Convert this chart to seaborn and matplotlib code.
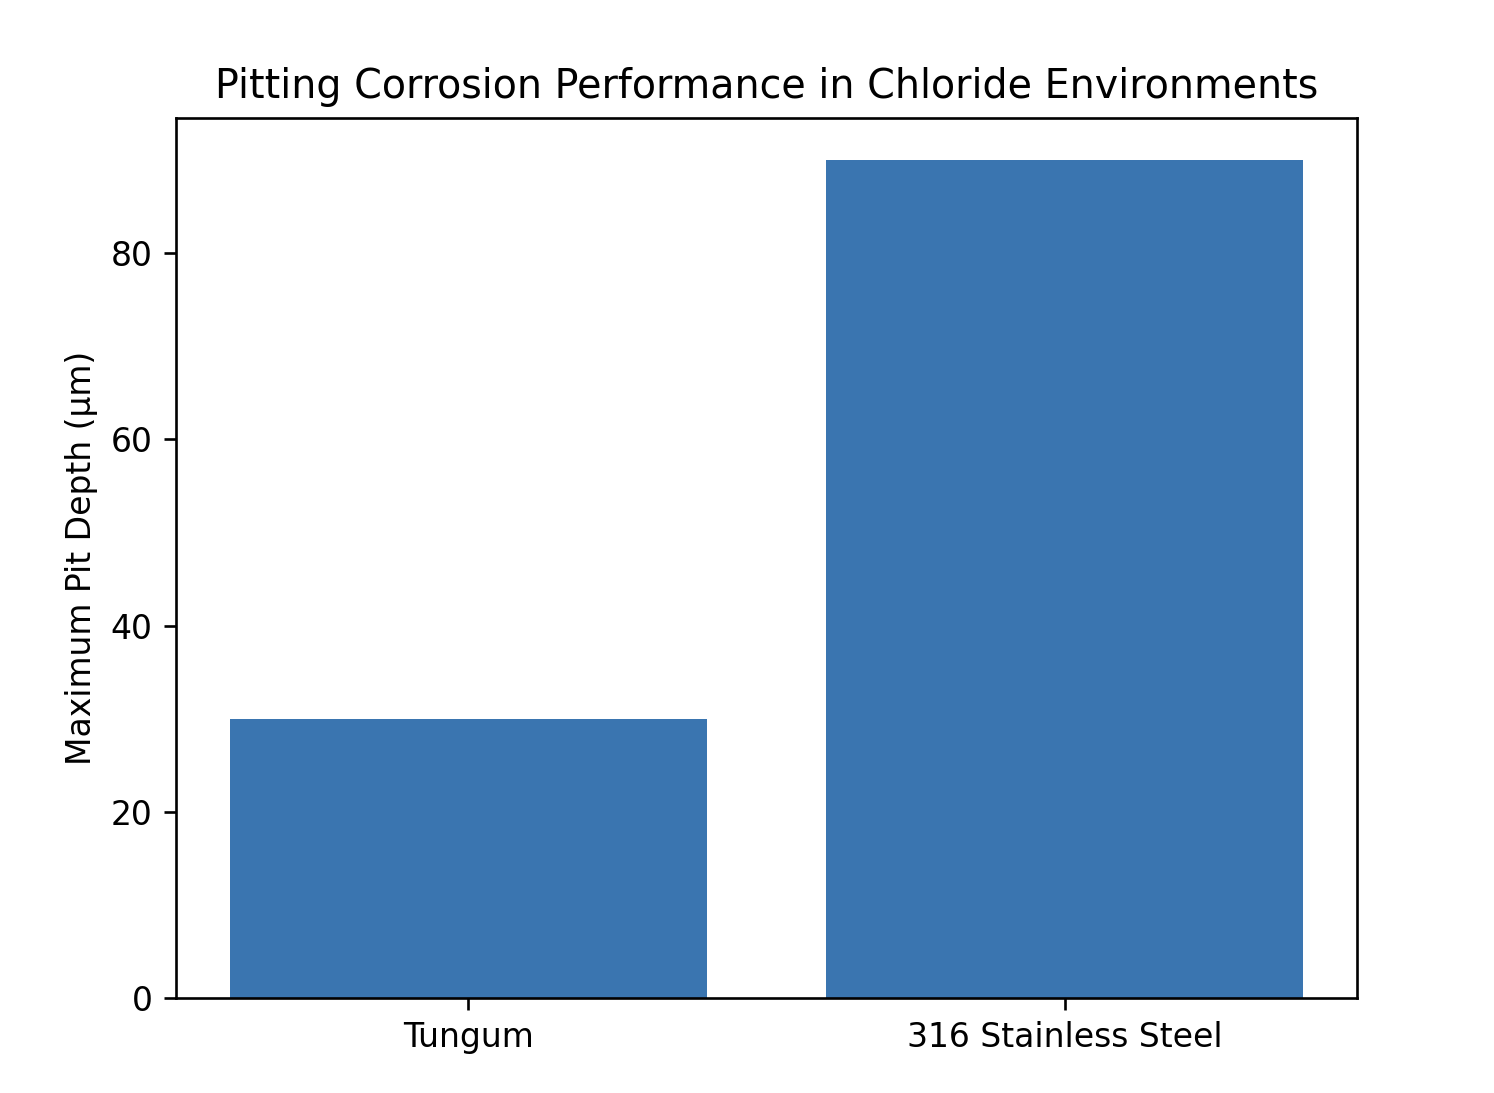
import matplotlib
matplotlib.use("Agg")
import matplotlib.pyplot as plt
import seaborn as sns
import pandas as pd

materials = ["Tungum", "316 Stainless Steel"]
pit_depth = [30, 90]

df = pd.DataFrame({"Material": materials, "Depth": pit_depth})

dpi = 238
fig = plt.figure(figsize=(1494 / dpi, 1093 / dpi), dpi=dpi)
ax = fig.add_axes([176 / 1494, 1 - 998 / 1093, (1357 - 176) / 1494, (998 - 118) / 1093])

sns.barplot(data=df, x="Material", y="Depth", color="#3a75b0", saturation=1,
            width=0.8, ax=ax, errorbar=None)

ax.set_xlim(-0.49, 1.49)
ax.set_ylim(0, 94.5)
ax.set_xlabel("")
ax.set_ylabel("Maximum Pit Depth (μm)")
ax.set_title("Pitting Corrosion Performance in Chloride Environments")

fig.savefig("out.png", dpi=dpi)
